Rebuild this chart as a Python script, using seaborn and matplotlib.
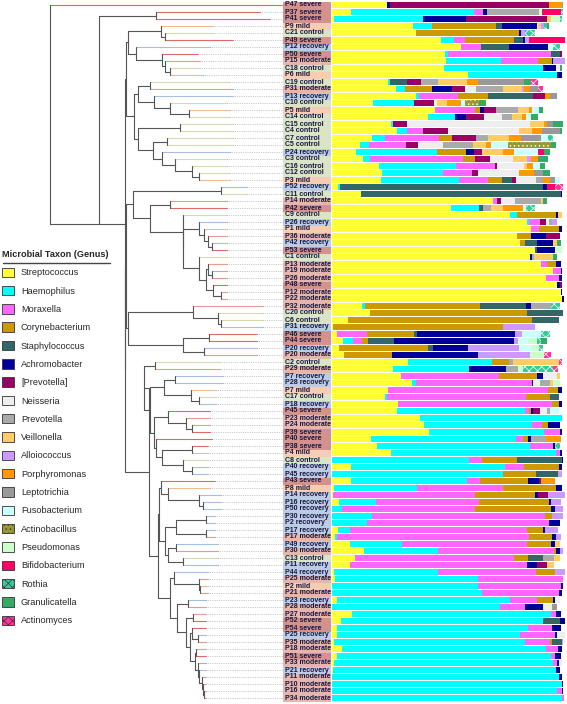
"""
Dendrogram + stacked genus composition per sample (nasopharyngeal microbiota)
"""
import matplotlib
matplotlib.use('Agg')
import matplotlib.pyplot as plt
from matplotlib.patches import Patch
from matplotlib.lines import Line2D
import seaborn as sns

sns.set_theme(style='white')
plt.rcParams['font.family'] = ['Liberation Sans', 'DejaVu Sans']
plt.rcParams['hatch.linewidth'] = 0.5

W, H = 567, 704

# ── samples (top to bottom) ─────────────────────────
samples = [
    'P47 severe', 'P37 severe', 'P41 severe', 'P9 mild', 'C21 control',
    'P49 severe', 'P12 recovery', 'P50 severe', 'P15 moderate', 'C18 control',
    'P6 mild', 'C19 control', 'P31 moderate', 'P13 recovery', 'C10 control',
    'P5 mild', 'C14 control', 'C15 control', 'C4 control', 'C7 control',
    'C5 control', 'P24 recovery', 'C3 control', 'C16 control', 'C12 control',
    'P3 mild', 'P52 recovery', 'C11 control', 'P14 moderate', 'P42 severe',
    'C9 control', 'P26 recovery', 'P1 mild', 'P36 moderate', 'P42 recovery',
    'P53 severe', 'C1 control', 'P13 moderate', 'P19 moderate', 'P26 moderate',
    'P48 severe', 'P12 moderate', 'P22 moderate', 'P32 moderate', 'C20 control',
    'C6 control', 'P31 recovery', 'P46 severe', 'P44 severe', 'P20 recovery',
    'P20 moderate', 'C2 control', 'P29 moderate', 'P7 recovery', 'P28 recovery',
    'P7 mild', 'C17 control', 'P18 recovery', 'P45 severe', 'P23 moderate',
    'P24 moderate', 'P39 severe', 'P40 severe', 'P38 severe', 'P4 mild',
    'C8 control', 'P40 recovery', 'P45 recovery', 'P43 severe', 'P8 mild',
    'P14 recovery', 'P16 recovery', 'P50 recovery', 'P30 recovery', 'P2 recovery',
    'P17 recovery', 'P17 moderate', 'P49 recovery', 'P30 moderate', 'C13 control',
    'P11 recovery', 'P44 recovery', 'P25 moderate', 'P2 mild', 'P21 moderate',
    'P23 recovery', 'P28 moderate', 'P27 moderate', 'P52 severe', 'P54 severe',
    'P25 recovery', 'P35 moderate', 'P18 moderate', 'P51 severe', 'P33 moderate',
    'P21 recovery', 'P11 moderate', 'P10 moderate', 'P16 moderate', 'P34 moderate',
]

label_bg = {'severe': '#D4928D', 'moderate': '#E6B6AC', 'mild': '#F6CDB3',
            'control': '#DAE5C8', 'recovery': '#BCCCE5'}
leaf_col = {'severe': '#DC6A66', 'moderate': '#E49C94', 'mild': '#F1BC92',
            'control': '#D3DBB2', 'recovery': '#A8BDDF'}

# ── relative abundance (%) per genus, one value per sample ──
streptococcus = [
    23.4, 8, 1, 34.6, 36, 46.6, 55.4, 48.5, 49, 48,
    58.5, 24.2, 27.5, 36, 17.5, 44.2, 41, 25.2, 27.8, 17,
    12, 10.3, 13.2, 20.3, 21.3, 20.9, 2.7, 12.4, 69, 51,
    76.4, 83.8, 85.4, 79.5, 80.7, 87, 85, 89.6, 95, 91.8,
    96.4, 98.3, 98.9, 13, 16.3, 7, 0.3, 2, 4.9, 3.1,
    5.2, 32.8, 26.3, 29.6, 34.2, 24.2, 22.7, 28.2, 28, 37.8,
    39.5, 41.6, 16.6, 19.5, 25.2, 0, 8, 0, 8, 1,
    0.6, 3.1, 0, 0, 0, 2.7, 1.3, 7.7, 13.7, 9.9,
    7.7, 0.9, 1.3, 0, 0, 2, 0, 8.4, 3.7, 2,
    2, 0.9, 4.1, 2.3, 0.9, 0.3, 0, 0, 0, 0]
haemophilus = [
    0, 53, 38, 8.2, 0, 5.7, 0, 1.4, 23.6, 42.6,
    37.9, 0.7, 3.9, 1.4, 17.5, 0, 11.7, 0.9, 4.3, 5.7,
    4, 34.9, 2.9, 32.9, 26.5, 33.8, 0.7, 0, 0, 12.2,
    3.1, 0.7, 0, 0, 0, 0, 0, 0, 0, 0,
    0, 0, 0, 1.1, 0, 0, 0, 0, 4, 0,
    0, 35.8, 32.6, 0, 1.9, 0, 0.7, 0, 54.8, 61,
    46.2, 49.5, 62.2, 65.5, 71, 58.9, 66.2, 73.2, 50, 35.6,
    0, 15.7, 4.1, 17, 15.2, 5, 1, 22.2, 31.9, 0,
    0, 44.8, 61.2, 62.5, 64.2, 74.4, 72.1, 85.8, 87, 82.3,
    78.5, 82, 87.7, 91.6, 93.8, 95.7, 97.6, 98.6, 96.4, 98.6]
moraxella = [
    0, 3.7, 0, 0, 0, 4.7, 8.6, 44.3, 16, 0,
    0, 0, 0, 16.7, 0, 17.2, 0, 0, 6.9, 23.3,
    15.7, 0, 40.3, 16.7, 12.2, 12.4, 0, 0, 1.7, 0,
    0, 4.7, 3.6, 0, 0, 0, 0, 2.6, 3.1, 5.7,
    0, 0, 0, 0, 0, 0, 0, 12.9, 3.9, 0,
    0, 0, 0, 42.2, 49.6, 68.7, 60, 66.1, 1.9, 0,
    4.3, 6.7, 3.3, 9.7, 1.7, 5.3, 8.3, 0, 5.4, 36.8,
    60.7, 44.3, 57.2, 74.4, 78.1, 75.8, 82.4, 53.6, 49.6, 68.2,
    75.8, 41.9, 36.8, 35.6, 33.3, 11.7, 10.7, 1.9, 0, 10,
    15.3, 10.7, 5.3, 1.9, 1.7, 0, 0, 0, 2.1, 1]
corynebacterium = [
    0, 0, 0, 27.6, 44.3, 21.2, 0, 0, 5.7, 0,
    0, 0, 11.4, 12.9, 0, 2.1, 0, 0, 0, 5.7,
    0, 12.3, 5, 0, 0, 5.7, 0, 0, 0, 0,
    16.6, 0, 8.6, 6.1, 2.1, 0, 0, 3.9, 0, 0,
    0, 0, 0, 49.6, 67.2, 78.7, 73, 20.3, 2.6, 38.2,
    20.5, 7.4, 0, 16.3, 0, 3.9, 10, 3.3, 0.7, 0,
    2.9, 0, 2.1, 0, 0, 15.3, 15, 14.3, 20.7, 22.9,
    26, 30, 32.9, 2.9, 0, 6.9, 9.6, 10.7, 1.1, 6.1,
    0, 8.2, 0, 0, 0, 6.9, 0, 0, 0, 0,
    0, 1, 0, 0, 0, 0, 0, 0, 0, 0]
staphylococcus = [
    0, 0, 0, 2.4, 0, 3.9, 12, 3.6, 0, 0,
    0, 7.4, 0, 19.3, 0, 0, 0, 0, 0, 0,
    0, 0, 0, 0, 0, 4.3, 87.3, 85.7, 0, 1.4,
    0, 0, 0, 0, 5, 1, 0, 0, 0, 0,
    0, 0, 0, 19.7, 15.7, 11.9, 0, 1.4, 11, 1.9,
    0, 0, 0, 0, 0, 0, 4, 0, 0, 0,
    0, 0, 0, 0, 0, 19, 0, 9.6, 0, 0,
    0, 0, 0, 0, 0, 0, 0, 0, 0, 6.4,
    0, 0, 0, 0, 0, 0, 0, 0, 7.2, 0,
    0, 4, 0, 0, 0, 0, 0, 0, 0, 0]
achromobacter = [
    1.4, 2, 18.6, 15.3, 0.7, 0.7, 16.5, 0, 0.7, 5.7,
    2.1, 0, 8.9, 0, 0, 1.9, 4.7, 0, 0, 0,
    0, 3.4, 0, 0, 0, 0, 1.4, 0.7, 0, 0,
    1, 0, 1, 6.1, 6.9, 7.9, 0.9, 2.1, 0.7, 1.4,
    1.4, 0.5, 0.6, 2.1, 0, 0, 0, 41.9, 51.5, 15.3,
    36.9, 0, 15.6, 2.3, 0.7, 2.1, 0, 1.3, 0.7, 0,
    5, 0.7, 1.4, 1, 1, 0.7, 1, 0, 4.7, 2.3,
    0.9, 1, 1.4, 0, 4.6, 1, 1.9, 1.4, 1.4, 0,
    4.3, 0, 0, 1.1, 1.3, 0.7, 7.9, 2, 2, 3.9,
    0.9, 0, 1.4, 2.4, 1.1, 1.7, 1.3, 0.7, 0.7, 0]
prevotella_br = [
    68.4, 0, 34.6, 0, 0, 0, 0, 1, 0, 0,
    0, 5.7, 5.4, 5, 8.6, 5, 7.7, 6.3, 11, 10,
    5.3, 3.3, 6.4, 1, 2.6, 1.9, 0, 0, 1.7, 0,
    0, 2.6, 0, 6, 0, 0, 0, 0, 0, 0,
    0.7, 0, 0, 0, 0, 0, 0, 0, 0, 0,
    0, 0, 0, 0, 0, 0, 0, 0, 3.1, 0,
    0, 0, 0, 0, 0, 0, 0, 0, 1, 0,
    4.6, 0, 0, 0, 0, 0, 0, 0, 0, 0,
    4.3, 0, 0, 0, 0, 0, 0, 0, 0, 0,
    0, 0, 0, 0, 0, 0, 0, 0, 0, 0]
neisseria = [
    0, 0, 0, 0.5, 0, 0, 0, 0, 0, 1.4,
    0.7, 0, 4.6, 0, 1.4, 0, 8, 52.4, 30.4, 0,
    10.7, 0, 10, 11.7, 17.5, 8.6, 0, 0, 6.1, 0,
    0, 1.4, 0, 0, 0, 0, 0, 0, 0, 0,
    0, 0, 0, 0, 0, 0, 0, 0, 0, 0,
    0, 0, 0, 6, 2.9, 0, 0, 0, 2.9, 0,
    0, 0, 0, 0, 0, 0, 0, 0, 0, 0,
    0, 0, 0, 0, 0, 0, 0, 0, 0, 0,
    0, 0, 0, 0, 0, 2.1, 3.6, 0, 0, 0,
    4.3, 0, 0, 0, 1.3, 0, 0, 0, 0, 0]
prevotella = [
    0, 22.3, 0, 0, 0, 0, 0, 0, 0, 0,
    0, 7.6, 11.6, 0, 0, 9.3, 4.3, 0, 0, 5.3,
    12.9, 0, 0, 0, 0, 3.1, 0, 0, 11.4, 3.7,
    0, 1.4, 0, 0, 0, 0, 0.9, 0, 0, 0,
    0, 0, 0, 8.6, 0, 0, 0, 0, 0, 0,
    0, 1.6, 5.4, 0, 4.3, 0, 0, 0, 1.4, 0,
    0, 0, 6.4, 0, 0, 0, 0, 0, 0, 0,
    0, 0, 0, 0, 0, 0, 0, 0, 0, 4.6,
    0, 0, 0, 0, 0, 0, 0, 0, 0, 0,
    0, 0, 0, 0, 0, 0, 0, 0, 0, 0]
veillonella = [
    0, 0, 1.7, 1.2, 0, 0, 0, 0, 0, 0,
    0, 12.2, 8.1, 0, 4.3, 4.9, 4.3, 6, 5.3, 9,
    5.7, 9, 5.7, 1.1, 0, 0, 0, 0, 0.7, 5.3,
    1.4, 0, 0, 0, 1.7, 0, 8, 0, 0, 0,
    0, 0, 0, 0, 0, 0, 0, 0, 0, 0,
    0, 20, 0, 1.4, 1.4, 0, 0, 0, 0, 0,
    0, 0, 0, 0, 0, 0, 0, 0, 0, 0,
    0, 0, 0, 0, 0, 0, 0, 2.1, 0, 2.6,
    3.1, 0, 0, 0, 0, 0, 0, 0, 0, 0,
    0, 0, 0, 0, 0, 0, 0, 0, 0, 0]
alloiococcus = [
    0, 0, 0, 1.4, 1.7, 1.9, 0, 0, 5, 0,
    0, 0, 1, 0, 0, 0, 0, 0, 0, 0,
    0, 0, 2.1, 0, 0, 0, 0, 0, 0, 0,
    0, 2, 0, 0, 0, 0, 0, 0, 0, 0,
    0, 0, 0, 0, 0, 0, 13.9, 2.9, 2.1, 21.9,
    22.2, 0, 0, 0, 0, 0, 0, 0, 0, 0,
    0, 0, 0, 0, 0, 0, 0, 1.7, 0, 0,
    7.1, 4.3, 3.6, 5, 0, 5.7, 2, 0, 1.4, 0,
    0, 4.3, 0, 0, 0, 0, 0, 0, 0, 0,
    0, 0.7, 0, 0, 0, 0, 0, 0, 0, 0]
porphyromonas = [
    5.3, 0, 0, 0, 0, 0, 0, 0, 0, 0,
    0, 4.7, 2.6, 2.1, 6.1, 1.4, 1.4, 1.4, 4.3, 5.3,
    2.1, 5, 2.9, 2.6, 6.7, 2.9, 0, 0, 0, 8.3,
    0, 0, 0, 0, 0, 0, 0, 0, 0, 0,
    0, 0, 0, 0, 0, 0, 0, 0, 0, 0,
    0, 0, 0, 0, 0, 0, 0, 0, 0, 0,
    0, 0, 6.4, 0, 0, 0, 0, 0, 6.1, 0,
    0, 0, 0, 0, 0, 0, 0, 0, 0, 0,
    0, 0, 0, 0, 0, 0, 0, 0, 0, 0,
    0, 0, 0, 0, 0, 0, 0, 0, 0, 0]
leptotrichia = [
    0.7, 0, 0, 0, 0, 0, 0, 0, 0, 0,
    0, 20, 3.6, 3, 0, 0, 0, 2.6, 7.9, 8.6,
    0, 0, 0, 0, 3.7, 2.2, 0, 0, 0, 0,
    0, 0, 0, 0, 0, 0, 0, 0, 0, 0,
    0, 0, 0, 0, 0, 0, 0, 0, 0, 0,
    0, 0, 0, 0, 0, 0, 0, 0, 0, 0,
    0, 0, 0, 0, 0, 0, 0, 0, 0, 0,
    0, 0, 0, 0, 0, 0, 0, 0, 0, 0,
    0, 0, 0, 0, 0, 0, 2.1, 0, 0, 0,
    0, 0, 0, 0, 0, 0, 0, 0, 0, 0]
fusobacterium = [
    0, 0, 0, 0, 0, 0, 2.3, 0, 0, 0,
    0, 0, 0, 0, 1.7, 3, 2.1, 0, 0, 2.9,
    7.1, 10.3, 0, 2.9, 0, 2.1, 0, 0, 0, 1.4,
    0, 0, 0, 0, 0, 0, 0, 0, 0, 0,
    0, 0, 0, 0, 0, 0, 0, 8.1, 4, 5.3,
    0, 0, 0, 0, 0, 0, 0, 0, 4, 0,
    0, 0, 0, 0, 0, 0, 0, 0, 0, 0,
    0, 0, 0, 0, 0, 0, 0, 0, 0, 0,
    0, 0, 0, 0, 0, 0, 0, 0, 0, 0,
    0, 0, 0, 0, 0, 0, 0, 0, 0, 0]
actinobacillus = [
    0, 0, 0, 0, 0, 0, 0, 0, 0, 0,
    0, 0, 0, 0, 6.1, 0, 0, 0, 0, 0,
    18.6, 0, 0, 0, 0, 0, 0, 0, 0, 0] + [0] * 70
pseudomonas = [
    0, 1, 4, 0, 0, 0, 0, 0, 0, 0,
    0, 0, 0, 0, 0, 0, 0, 0, 0, 0,
    0, 0, 0, 0, 0, 0, 0, 0, 0, 0,
    0, 0, 0, 0, 0, 3, 0, 0, 0, 0,
    0, 0, 0, 0, 0, 0, 0, 0, 3.9, 3,
    6, 0, 1.9, 0, 2.9, 0, 0, 0, 0, 0] + [0] * 40
bifidobacterium = [
    0, 8.1, 0, 0, 0, 15.3, 0, 0, 0, 0,
    0, 0, 0, 0, 0, 0, 0, 0, 0, 0,
    0, 2.5, 0, 0, 0, 0, 3.5, 0, 0, 0] + [0] * 70
rothia = [
    0, 1, 1, 1, 4.3, 0, 3.1, 0, 0, 0,
    0, 0, 0, 0, 0, 0, 0, 0, 0, 1.9,
    0, 0, 0, 0, 0, 0, 0, 0, 0, 3.9,
    0, 0, 0, 0, 0, 0, 0, 0, 0, 0,
    0, 0, 0, 3.9, 0, 0, 0, 4, 2, 2,
    0, 0, 12.9, 0, 0, 0, 0, 0, 0, 0,
    0, 0, 0, 2.1, 0, 0, 0, 0, 0, 0] + [0] * 30
granulicatella = [
    0, 0, 0, 0.8, 0, 0, 0, 0, 0, 1,
    0, 3.1, 0, 0, 3.1, 1.7, 3.1, 4.3, 1, 0,
    2, 2.5, 4.3, 2.4, 3.1, 0, 0, 0, 1.7, 0,
    0, 0, 0, 0, 2, 0, 1.7, 0, 0, 0,
    0, 0, 0, 0, 0, 0, 0, 0, 2.4, 0] + [0] * 50
actinomyces = [
    0, 0, 0, 0, 0, 0, 0, 0, 0, 0,
    0, 2.9, 2.1, 0, 0, 0, 0, 0, 0, 0,
    0, 0, 0, 0, 0, 0, 3.5, 0, 0, 0,
    0, 0, 0, 0, 0, 0, 0, 0, 0, 0,
    0, 0, 0, 0, 0, 0, 0, 0, 0, 0,
    3, 1, 2.4, 0, 0, 0, 0, 0, 0, 0] + [0] * 40

taxa = ['Streptococcus', 'Haemophilus', 'Moraxella', 'Corynebacterium',
        'Staphylococcus', 'Achromobacter', '[Prevotella]', 'Neisseria',
        'Prevotella', 'Veillonella', 'Alloiococcus', 'Porphyromonas',
        'Leptotrichia', 'Fusobacterium', 'Actinobacillus', 'Pseudomonas',
        'Bifidobacterium', 'Rothia', 'Granulicatella', 'Actinomyces']
abundance = [streptococcus, haemophilus, moraxella, corynebacterium,
             staphylococcus, achromobacter, prevotella_br, neisseria,
             prevotella, veillonella, alloiococcus, porphyromonas,
             leptotrichia, fusobacterium, actinobacillus, pseudomonas,
             bifidobacterium, rothia, granulicatella, actinomyces]
taxa_colors = ['#FFFF33', '#00FFFF', '#FF66FF', '#CC9900', '#336666',
               '#000099', '#990066', '#EEEEEE', '#AAAAAA', '#FFCC66',
               '#CC99FF', '#FF9900', '#999999', '#CCFFFF', '#999933',
               '#CCFFCC', '#FF0066', '#33CC99', '#33AA66', '#FF3399']
taxa_hatch = [None] * 14 + ['....', None, None, 'xxxx', None, 'xxxx']

# ── dendrogram: (height, left, right[, child the node sits on]); ints are rows ──
upper_tree = (0.331,
    (0.338, (0.482, 3, (0.499, 4, 5)),
        (0.374, 6, (0.486, 7, (0.499, 8, (0.521, 9, 10))))),
    (0.363,
        (0.381, (0.435, 11, 12), (0.449, 13, (0.518, 14, (0.601, 15, 16)))),
        (0.381, (0.561, 17, 18),
            (0.446, (0.508, 19, 20),
                (0.486, 21, (0.542, 22, (0.614, 23, (0.643, 24, 25))))))))

middle_tree = (0.33,
    (0.36, (0.737, 26, 27),
        (0.435, (0.521, 28, 29),
            (0.573, 30,
                (0.576,
                    (0.645, 31, (0.665, 32, (0.683, 33, (0.698, 34, 35)))),
                    (0.645, 36, (0.676, (0.683, 37, (0.701, 38, 39)),
                                        (0.705, 40, (0.737, 41, 42)))))))),
    (0.338, (0.619, 43, (0.727, 44, (0.737, 45, 46))),
        (0.573, (0.688, 47, 48), (0.665, 49, 50))))

lower_tree = (0.429,
    (0.407, (0.453, 51, 52),
        (0.432, (0.494, (0.54, 53, 54), (0.609, 55, (0.643, 56, 57))),
            (0.449, (0.511, 58, (0.586, 59, (0.616, 60, 61))),
                (0.46, 62, (0.485, (0.612, 63, 64), (0.576, 65, (0.612, 66, 67))))))),
    (0.468,
        (0.472, (0.479, 68, (0.511, 69, (0.643, 70, (0.662, 71, 72)))),
            (0.499, (0.547, (0.676, 73, 74), (0.676, 75, 76)),
                (0.511, (0.547, 77, 78), (0.576, 79, 80)))),
        (0.521, (0.537, 81, (0.645, 82, (0.647, 83, 84))),
            (0.55, (0.597, 85, 86),
                (0.59, (0.62, 87, 88),
                    (0.607, (0.615, 89, (0.64, 90, 91)),
                        (0.625, (0.63, 92, 93),
                            (0.638, 94, (0.645, 95, (0.655, 96, (0.66, 97, (0.665, 98, 99))))))))))))

tree = (0.0, 0,
    (0.213, (0.46, 1, 2),
        (0.324, upper_tree, (0.327, middle_tree, lower_tree)), 1))

leaf_depth = (
    [1.0, 0.906, 0.95, 0.705, 0.705, 0.79, 0.69, 0.64, 0.647, 0.647,
     0.662, 0.777, 0.79, 0.79, 0.763, 0.777, 0.777, 0.79, 0.79, 0.79,
     0.79, 0.777, 0.763, 0.763, 0.777, 0.777, 0.849, 0.849]
    + [0.763] * 15 + [0.921] * 4 + [0.892] * 4
    + [0.734, 0.734, 0.748, 0.748, 0.719, 0.719, 0.719]
    + [0.691] * 4 + [0.698] + [0.683] * 5
    + [0.712, 0.691, 0.741, 0.741, 0.741, 0.712, 0.712, 0.712, 0.712]
    + [0.727] * 4 + [0.683] * 4 + [0.676] * 15)

groups = [s.split()[1] for s in samples]
rows = list(range(len(samples)))

fig = plt.figure(figsize=(W / 100, H / 100), dpi=100)
ybot, yh = 2.5 / H, 700 / H
ax_tree = fig.add_axes([40 / W, ybot, 243 / W, yh])
ax_lab = fig.add_axes([283 / W, ybot, 48 / W, yh])
ax_bar = fig.add_axes([332 / W, ybot, 233 / W, yh])
for ax in (ax_tree, ax_lab, ax_bar):
    ax.set_ylim(len(samples) - 0.5, -0.5)
    ax.set_axis_off()

LABEL_X = 1.006
INNER = '#555555'


def draw(node, parent_h):
    if isinstance(node, int):
        h = leaf_depth[node]
        ax_tree.plot([parent_h, h], [node, node], color=leaf_col[groups[node]], lw=0.8)
        ax_tree.plot([h, LABEL_X], [node, node], color='#9a9a9a', lw=0.5, ls=(0, (1, 1.6)))
        return node
    h, a, b = node[:3]
    ya, yb = draw(a, h), draw(b, h)
    ax_tree.plot([h, h], [ya, yb], color=INNER, lw=0.8)
    y = (ya, yb)[node[3]] if len(node) > 3 else (ya + yb) / 2
    if parent_h is not None:
        ax_tree.plot([parent_h, h], [y, y], color=INNER, lw=0.8)
    return y


draw(tree, None)
ax_tree.set_xlim(-0.041, LABEL_X)

# ── sample labels ──
ax_lab.barh(rows, 1, height=1.0, color=[label_bg[g] for g in groups], lw=0)
for r, s in zip(rows, samples):
    ax_lab.text(0.04, r, s, va='center', ha='left', fontsize=5, fontweight='bold',
                color='#161640')
ax_lab.set_xlim(0, 1)

# ── stacked bars ──
left = [0.0] * len(samples)
for name, vals, col, hat in zip(taxa, abundance, taxa_colors, taxa_hatch):
    ax_bar.barh(rows, vals, left=left, height=0.86, color=col, lw=0,
                hatch=hat, edgecolor='white' if hat else col)
    left = [l + v for l, v in zip(left, vals)]
ax_bar.set_xlim(0, 100)

# ── legend ──
handles = [Patch(facecolor=c, edgecolor='#333333', lw=0.6, hatch=h)
           for c, h in zip(taxa_colors, taxa_hatch)]
fig.legend(handles, taxa, loc='upper left', bbox_to_anchor=(2 / W, 1 - 250 / H),
           frameon=False, fontsize=6.6, title='Microbial Taxon (Genus)',
           title_fontproperties={'weight': 'bold', 'size': 6.6}, alignment='left',
           handlelength=1.31, handleheight=1.2, labelspacing=0.93,
           handletextpad=0.76, borderpad=0, borderaxespad=0)
fig.add_artist(Line2D([3 / W, 110 / W], [1 - 263 / H] * 2, color='#444444', lw=1))

fig.savefig('out.png', dpi=100)
plt.close(fig)
